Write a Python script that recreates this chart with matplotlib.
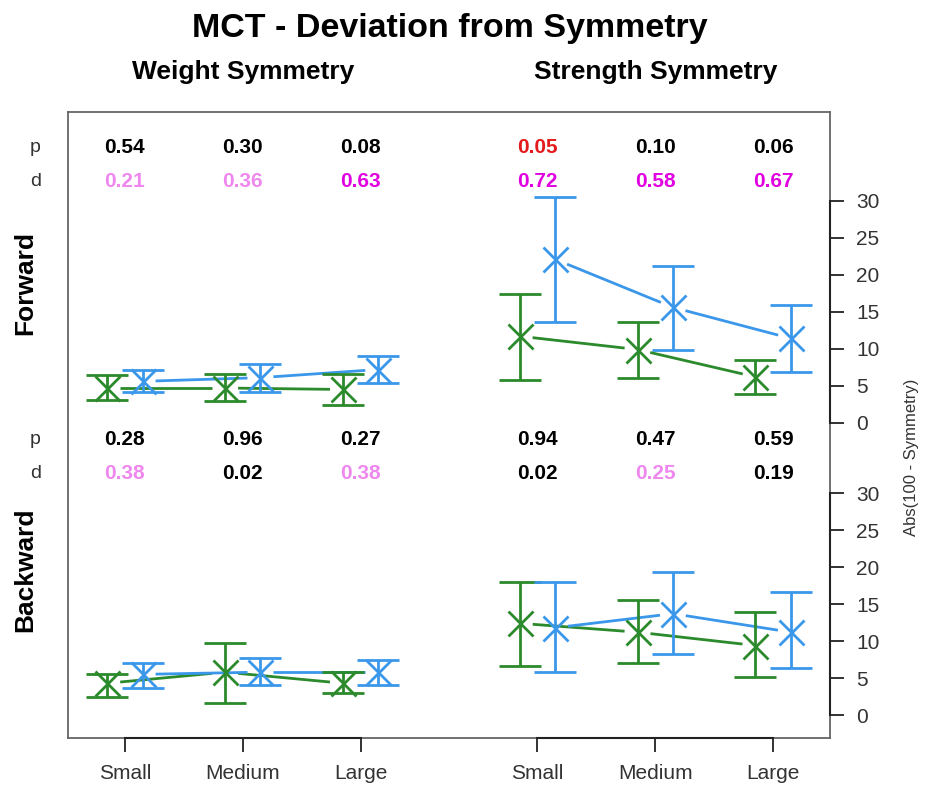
import numpy as np
import matplotlib
matplotlib.use('Agg')
import matplotlib.pyplot as plt

plt.rcParams['font.family'] = ['Liberation Sans', 'DejaVu Sans']

sizes = ['Small', 'Medium', 'Large']
groups = ['Weight Symmetry', 'Strength Symmetry']
rows = ['Forward', 'Backward']

# means and interval limits (green / blue series)
fw_w_green = [4.7, 4.7, 4.5];    fw_w_green_lo = [3.1, 2.9, 2.4];  fw_w_green_hi = [6.4, 6.6, 6.6]
fw_w_blue = [5.6, 6.1, 7.2];     fw_w_blue_lo = [4.2, 4.2, 5.4];   fw_w_blue_hi = [7.1, 7.9, 9.0]
fw_s_green = [11.7, 9.9, 6.2];   fw_s_green_lo = [5.8, 6.1, 3.9];  fw_s_green_hi = [17.4, 13.6, 8.5]
fw_s_blue = [22.1, 15.6, 11.4];  fw_s_blue_lo = [13.6, 9.9, 6.8];  fw_s_blue_hi = [30.5, 21.2, 15.9]
bw_w_green = [4.3, 5.8, 4.3];    bw_w_green_lo = [2.4, 1.6, 3.0];  bw_w_green_hi = [5.6, 9.8, 5.8]
bw_w_blue = [5.5, 5.8, 5.8];     bw_w_blue_lo = [3.6, 4.0, 4.0];   bw_w_blue_hi = [7.1, 7.7, 7.5]
bw_s_green = [12.4, 11.2, 9.4];  bw_s_green_lo = [6.6, 7.1, 5.2];  bw_s_green_hi = [18.0, 15.5, 13.9]
bw_s_blue = [11.8, 13.7, 11.2];  bw_s_blue_lo = [5.8, 8.3, 6.3];   bw_s_blue_hi = [18.0, 19.4, 16.6]

p_fw = [0.54, 0.30, 0.08, 0.05, 0.10, 0.06]
d_fw = [0.21, 0.36, 0.63, 0.72, 0.58, 0.67]
p_bw = [0.28, 0.96, 0.27, 0.94, 0.47, 0.59]
d_bw = [0.38, 0.02, 0.38, 0.02, 0.25, 0.19]

GREEN = '#2b8a2b'
BLUE = '#3a97ea'
OFF = 39.5      # vertical shift of the forward panel
XPOS = [1, 2, 3, 4.5, 5.5, 6.5]
DX = 0.15

def pcol(p):
    return '#e31a1c' if p <= 0.05 else 'black'

def dcol(d):
    if d >= 0.5: return '#e000e0'
    if d >= 0.2: return '#ee88ee'
    return 'black'

fig = plt.figure(figsize=(9.29, 7.94), dpi=100)
ax = fig.add_axes([68/929, 56/794, 762/929, 626/794])
ax.set_xlim(0.517, 6.983)
ax.set_ylim(-3.1, 81.5)

def gapped(xs, ys, color, gap=13):
    pts = ax.transData.transform(np.column_stack([xs, ys]))
    inv = ax.transData.inverted()
    for a, b in zip(pts[:-1], pts[1:]):
        u = (b - a) / np.hypot(*(b - a))
        seg = inv.transform(np.array([a + u*gap, b - u*gap]))
        ax.plot(seg[:, 0], seg[:, 1], color=color, lw=2, solid_capstyle='butt', zorder=2)

def series(xs, m, lo, hi, color, shift):
    m = np.array(m) + shift
    lo = np.array(lo) + shift
    hi = np.array(hi) + shift
    xs = np.array(xs)
    ax.errorbar(xs, m, yerr=[m - lo, hi - m], fmt='none', ecolor=color,
                elinewidth=2, capsize=15, capthick=2, zorder=3)
    ax.plot(xs, m, 'x', color=color, ms=18, mew=2, zorder=4)
    gapped(xs, m, color)

left = np.array(XPOS[:3]); right = np.array(XPOS[3:])
series(left - DX, fw_w_green, fw_w_green_lo, fw_w_green_hi, GREEN, OFF)
series(left + DX, fw_w_blue, fw_w_blue_lo, fw_w_blue_hi, BLUE, OFF)
series(right - DX, fw_s_green, fw_s_green_lo, fw_s_green_hi, GREEN, OFF)
series(right + DX, fw_s_blue, fw_s_blue_lo, fw_s_blue_hi, BLUE, OFF)
series(left - DX, bw_w_green, bw_w_green_lo, bw_w_green_hi, GREEN, 0)
series(left + DX, bw_w_blue, bw_w_blue_lo, bw_w_blue_hi, BLUE, 0)
series(right - DX, bw_s_green, bw_s_green_lo, bw_s_green_hi, GREEN, 0)
series(right + DX, bw_s_blue, bw_s_blue_lo, bw_s_blue_hi, BLUE, 0)

# p / d rows
for shift, ps, ds in [(OFF, p_fw, d_fw), (0, p_bw, d_bw)]:
    for x, p, d in zip(XPOS, ps, ds):
        ax.text(x, shift + 37.2, f'{p:.2f}', color=pcol(p), ha='center', va='center',
                fontsize=15, fontweight='bold')
        ax.text(x, shift + 32.6, f'{d:.2f}', color=dcol(d), ha='center', va='center',
                fontsize=15, fontweight='bold')
    ax.text(-0.043, (shift + 37.2 + 3.1) / 84.6, 'p', transform=ax.transAxes,
            ha='center', va='center', fontsize=14, color='#333333')
    ax.text(-0.043, (shift + 32.6 + 3.1) / 84.6, 'd', transform=ax.transAxes,
            ha='center', va='center', fontsize=14, color='#333333')

# axes styling
for s in ax.spines.values():
    s.set_color('#666666'); s.set_linewidth(1.3)
yt = [0, 5, 10, 15, 20, 25, 30]
ax.yaxis.tick_right()
ax.set_yticks([v + OFF for v in yt] + yt)
ax.set_yticklabels([str(v) for v in yt] * 2)
ax.tick_params(axis='y', length=10, width=1.3, pad=9, labelsize=15, colors='#222222', labelcolor='#333333')
ax.set_xticks(XPOS)
ax.set_xticklabels(sizes * 2)
ax.tick_params(axis='x', length=10, width=1.3, pad=9, labelsize=15, colors='#222222', labelcolor='#333333')
yb = ax.get_yaxis_transform()
for sh in [0, OFF]:
    ax.plot([1, 1], [sh, sh + 30], transform=yb, color='#222222', lw=1.5, clip_on=False, zorder=5)
xb = ax.get_xaxis_transform()
ax.plot([1, 3], [0, 0], transform=xb, color='#222222', lw=1.5, clip_on=False, zorder=5)
ax.plot([4.5, 6.5], [0, 0], transform=xb, color='#222222', lw=1.5, clip_on=False, zorder=5)

ax.text(1.1076, 0.449, 'Abs(100 - Symmetry)', transform=ax.transAxes, rotation=90,
        ha='center', va='center', fontsize=12, color='#333333')

# titles
fig.text(450/929, 1 - 28/794, 'MCT - Deviation from Symmetry', ha='center', va='center',
         fontsize=24.5, fontweight='bold')
ax.text(2, 1.064, groups[0], transform=xb, ha='center', va='center', fontsize=19, fontweight='bold')
ax.text(5.5, 1.064, groups[1], transform=xb, ha='center', va='center', fontsize=19, fontweight='bold')
ax.text(-0.056, 0.727, rows[0], transform=ax.transAxes, rotation=90, ha='center', va='center',
        fontsize=19, fontweight='bold')
ax.text(-0.056, 0.268, rows[1], transform=ax.transAxes, rotation=90, ha='center', va='center',
        fontsize=19, fontweight='bold')

fig.savefig('out.png', dpi=100)
